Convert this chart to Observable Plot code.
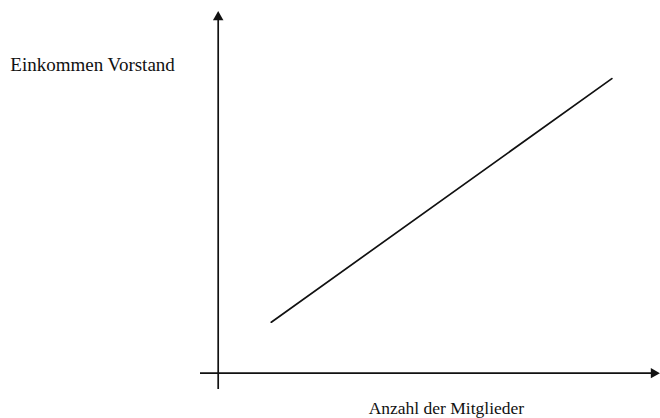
<!DOCTYPE html>
<html>
<head>
<meta charset="utf-8">
<script src="https://cdn.jsdelivr.net/npm/d3@7"></script>
<script src="https://cdn.jsdelivr.net/npm/@observablehq/plot@0.6"></script>
<style>
  html, body { margin: 0; padding: 0; background: #fff; }
  #chart svg { display: block; }
</style>
</head>
<body>
<div id="chart"></div>
<script>
// Conceptual chart: executive income rises with number of members
const lineX = [12, 89];      // Anzahl der Mitglieder (arbitrary units)
const lineY = [14, 81];      // Einkommen Vorstand (arbitrary units)
const xLabel = "Anzahl der Mitglieder";
const yLabel = "Einkommen Vorstand";

const xDomain = [-4, 100];
const yDomain = [-4.5, 100];

const lineData = lineX.map((x, i) => ({x, y: lineY[i]}));

const ink = "#111";
const font = "'Liberation Serif', 'Times New Roman', serif";

const chart = Plot.plot({
  width: 660,
  height: 418,
  marginLeft: 200,
  marginRight: 0,
  marginTop: 9,
  marginBottom: 29,
  x: {domain: xDomain, axis: null},
  y: {domain: yDomain, axis: null},
  style: {background: "#fff", fontFamily: font},
  marks: [
    // axes
    Plot.ruleY([0], {x1: xDomain[0], x2: 98, stroke: ink, strokeWidth: 1.7}),
    Plot.ruleX([0], {y1: yDomain[0], y2: 97, stroke: ink, strokeWidth: 1.7}),
    // arrow heads
    Plot.dot([{x: 0, y: 97.9}], {x: "x", y: "y", symbol: "triangle2", r: 5, fill: ink, stroke: "none"}),
    Plot.dot([{x: 98.5, y: 0}], {x: "x", y: "y", symbol: "triangle2", r: 5, fill: ink, stroke: "none", rotate: 90}),
    // the relationship
    Plot.line(lineData, {x: "x", y: "y", stroke: ink, strokeWidth: 1.7}),
    // labels
    Plot.text([yLabel], {x: -28.4, y: 83, text: d => d, fontSize: 19, fill: ink, textAnchor: "middle", lineAnchor: "bottom", fontFamily: font}),
    Plot.text([xLabel], {x: 51.6, y: -11.1, text: d => d, fontSize: 17.5, fill: ink, textAnchor: "middle", lineAnchor: "bottom", fontFamily: font})
  ]
});
document.getElementById("chart").appendChild(chart);
</script>
</body>
</html>
